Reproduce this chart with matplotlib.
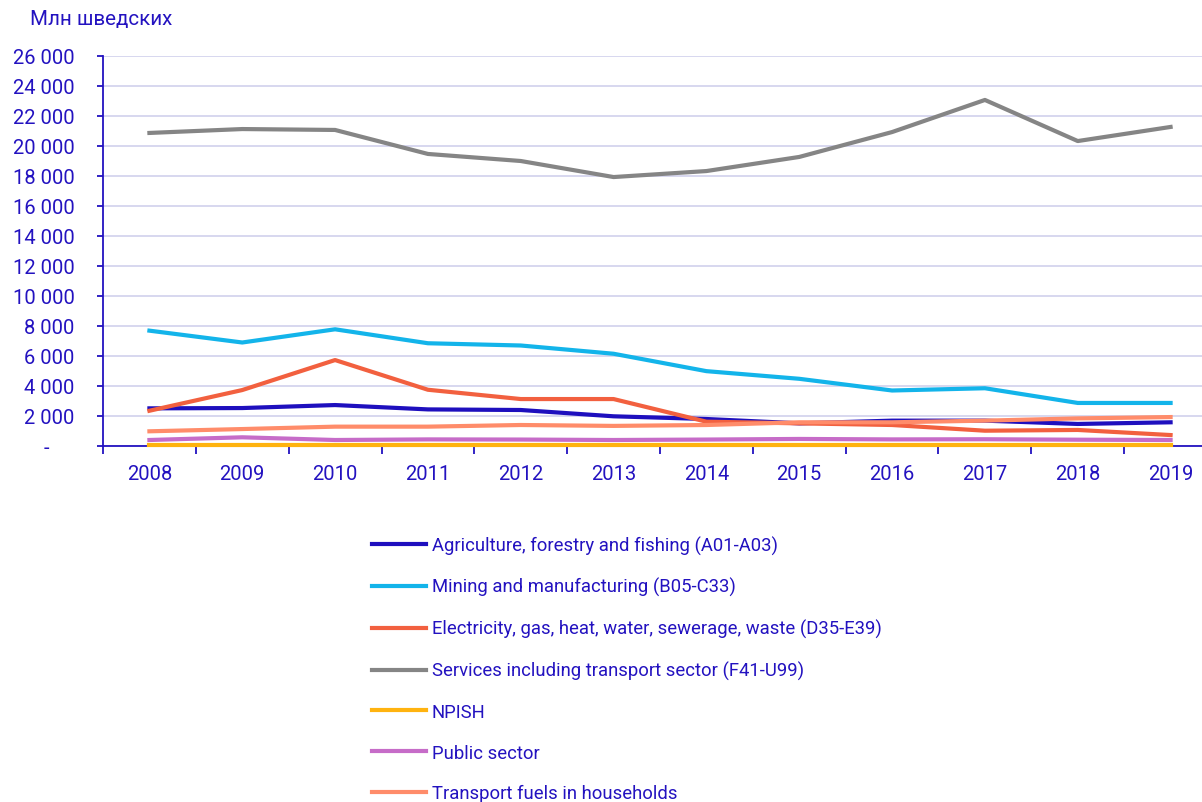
import numpy as np
import matplotlib
matplotlib.use("Agg")
import matplotlib.pyplot as plt
from matplotlib.ticker import FuncFormatter, MultipleLocator, FixedLocator

plt.rcParams['font.family'] = ['Roboto', 'DejaVu Sans']

# Data (Mln SEK)
years = ['2008', '2009', '2010', '2011', '2012', '2013',
         '2014', '2015', '2016', '2017', '2018', '2019']

agriculture = [2510, 2530, 2730, 2440, 2400, 1980, 1800, 1510, 1690, 1690, 1470, 1580]
mining = [7690, 6900, 7780, 6850, 6700, 6150, 4990, 4480, 3700, 3850, 2870, 2870]
electricity = [2350, 3730, 5730, 3750, 3130, 3130, 1620, 1510, 1400, 1020, 1070, 730]
services = [20870, 21130, 21070, 19470, 19000, 17930, 18330, 19270, 20930, 23070, 20330, 21270]
npish = [70, 70, 70, 70, 70, 70, 70, 70, 70, 70, 70, 70]
public = [400, 580, 400, 440, 430, 400, 430, 470, 440, 450, 420, 400]
transport = [980, 1130, 1290, 1290, 1400, 1340, 1400, 1580, 1580, 1690, 1840, 1930]

labels = ['Agriculture, forestry and fishing (A01-A03)',
          'Mining and manufacturing (B05-C33)',
          'Electricity, gas, heat, water, sewerage, waste (D35-E39)',
          'Services including transport sector (F41-U99)',
          'NPISH',
          'Public sector',
          'Transport fuels in households']
colors = ['#1e0fbe', '#13b4ea', '#f2603f', '#858585', '#ffb30f', '#c66cc8', '#ff8c6a']
series = [agriculture, mining, electricity, services, npish, public, transport]

text_color = '#2312c0'
grid_color = '#d4d4ee'

W, H = 1202, 803
fig = plt.figure(figsize=(W / 100, H / 100), dpi=100)
ax = fig.add_axes([103 / W, 1 - 447 / H, (1217 - 103) / W, 390 / H])

x = np.arange(len(years))
handles = []
for vals, col, lab in zip(series, colors, labels):
    h, = ax.plot(x, vals, color=col, lw=3, label=lab, zorder=3, clip_on=False)
    handles.append(h)

ax.set_xlim(-0.5, len(years) - 0.5)
ax.set_ylim(0, 26000)
ax.yaxis.set_major_locator(MultipleLocator(2000))
ax.yaxis.set_major_formatter(FuncFormatter(
    lambda v, p: '-     ' if v == 0 else f'{int(v):,}'.replace(',', ' ')))
ax.grid(axis='y', color=grid_color, lw=1.3)
ax.set_axisbelow(True)

ax.set_xticks(x)
ax.set_xticklabels(years)
ax.xaxis.set_minor_locator(FixedLocator(np.arange(-0.5, len(years) + 0.5, 1)))
ax.tick_params(axis='x', which='major', length=0, pad=13, labelsize=14.5, labelcolor=text_color)
ax.tick_params(axis='x', which='minor', length=6, width=1.3, color=text_color, direction='out')
ax.tick_params(axis='y', length=4.5, width=1.3, color=text_color, pad=16,
               labelsize=14.5, labelcolor=text_color)

for side in ['top', 'right']:
    ax.spines[side].set_visible(False)
for side in ['left', 'bottom']:
    ax.spines[side].set_color(text_color)
    ax.spines[side].set_linewidth(1.3)

fig.text(30 / W, 1 - 20 / H, 'Млн шведских', color=text_color, fontsize=14.8,
         ha='left', va='center')

fig.legend(handles=handles, loc='upper left', bbox_to_anchor=(365 / W, 1 - 529 / H),
           frameon=False, fontsize=13.3, handlelength=2.9, handletextpad=0.3,
           labelspacing=1.23, labelcolor=text_color, borderaxespad=0)

fig.savefig('out.png', dpi=100)
